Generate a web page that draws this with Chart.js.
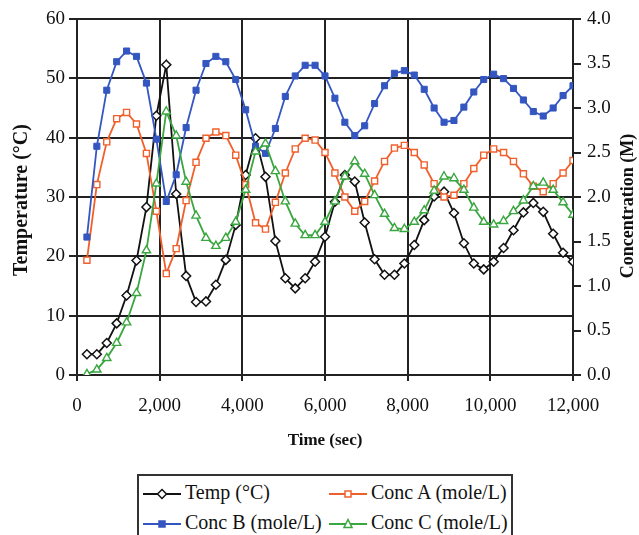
<!DOCTYPE html>
<html>
<head>
<meta charset="utf-8">
<script src="https://cdn.jsdelivr.net/npm/chart.js@4.4.1/dist/chart.umd.min.js"></script>
<style>
  body { margin: 0; background: #fff; }
  #wrap { position: relative; width: 639px; height: 535px; overflow: hidden; font-family: "Liberation Serif", serif; }
  #legend { position: absolute; left: 137px; top: 474px; width: 372px; height: 70px; border: 2px solid #333; overflow: hidden; background: #fff; }
  .item { position: absolute; font-size: 20px; line-height: 22px; white-space: nowrap; color: #111; }
  .item svg { vertical-align: -1px; margin-right: 4px; }
</style>
</head>
<body>
<div id="wrap">
  <canvas id="myChart" width="639" height="535"></canvas>
  <div id="legend">
    <div class="item" style="left:4px; top:5px">
      <svg width="38" height="12"><line x1="0" y1="6" x2="38" y2="6" stroke="#111" stroke-width="1.8"/><polygon points="19,1.5 23.5,6 19,10.5 14.5,6" fill="#fff" stroke="#111" stroke-width="1.5"/></svg>Temp (°C)
    </div>
    <div class="item" style="left:190px; top:5px">
      <svg width="38" height="12"><line x1="0" y1="6" x2="38" y2="6" stroke="#f0602c" stroke-width="1.8"/><rect x="16" y="3" width="6" height="6" fill="#fff" stroke="#f0602c" stroke-width="1.5"/></svg>Conc A (mole/L)
    </div>
    <div class="item" style="left:4px; top:35px">
      <svg width="38" height="12"><line x1="0" y1="6" x2="38" y2="6" stroke="#3456c0" stroke-width="1.8"/><rect x="16" y="3" width="6" height="6" fill="#3456c0" stroke="#3456c0" stroke-width="1.5"/></svg>Conc B (mole/L)
    </div>
    <div class="item" style="left:190px; top:35px">
      <svg width="38" height="12"><line x1="0" y1="6" x2="38" y2="6" stroke="#3aa640" stroke-width="1.8"/><polygon points="19,1.5 23,9.5 15,9.5" fill="#fff" stroke="#3aa640" stroke-width="1.5"/></svg>Conc C (mole/L)
    </div>
  </div>
</div>
<script>
// sample times (sec)
const times = [240, 480, 720, 960, 1200, 1440, 1680, 1920, 2160, 2400,
    2640, 2880, 3120, 3360, 3600, 3840, 4080, 4320, 4560, 4800,
    5040, 5280, 5520, 5760, 6000, 6240, 6480, 6720, 6960, 7200,
    7440, 7680, 7920, 8160, 8400, 8640, 8880, 9120, 9360, 9600,
    9840, 10080, 10320, 10560, 10800, 11040, 11280, 11520, 11760, 12000]

const tempC = [3.5, 3.5, 5.4, 8.7, 13.4, 19.3, 28.3, 43.7, 52.3, 30.5,
    16.7, 12.3, 12.4, 15.2, 19.4, 25.3, 33.7, 39.9, 33.4, 22.6,
    16.3, 14.6, 16.3, 19.1, 23.3, 29.2, 33.7, 32.6, 25.7, 19.5,
    16.9, 16.9, 18.8, 21.9, 26.1, 30.1, 30.9, 27.3, 22.2, 18.8,
    17.8, 19.1, 21.4, 24.4, 27.4, 29.0, 27.5, 23.8, 20.6, 19.1]

const concA = [1.29, 2.14, 2.62, 2.88, 2.95, 2.82, 2.49, 1.84, 1.14, 1.42,
    1.96, 2.39, 2.66, 2.73, 2.69, 2.47, 2.14, 1.71, 1.64, 1.94,
    2.27, 2.54, 2.66, 2.64, 2.50, 2.27, 2.00, 1.84, 1.95, 2.18,
    2.40, 2.55, 2.58, 2.50, 2.36, 2.15, 2.00, 2.02, 2.15, 2.32,
    2.47, 2.54, 2.50, 2.40, 2.26, 2.12, 2.06, 2.15, 2.27, 2.41]

const concB = [1.55, 2.57, 3.20, 3.52, 3.64, 3.58, 3.28, 2.65, 1.95, 2.25,
    2.78, 3.20, 3.50, 3.58, 3.52, 3.32, 2.98, 2.57, 2.49, 2.77,
    3.13, 3.36, 3.48, 3.48, 3.36, 3.11, 2.84, 2.69, 2.80, 3.05,
    3.25, 3.39, 3.42, 3.37, 3.21, 3.00, 2.84, 2.86, 3.01, 3.18,
    3.32, 3.38, 3.33, 3.22, 3.09, 2.96, 2.91, 3.00, 3.14, 3.25]

const concC = [0.01, 0.06, 0.19, 0.36, 0.59, 0.92, 1.40, 2.15, 2.96, 2.69,
    2.17, 1.79, 1.54, 1.45, 1.54, 1.72, 2.08, 2.51, 2.60, 2.29,
    1.95, 1.70, 1.57, 1.57, 1.72, 1.95, 2.23, 2.40, 2.26, 2.02,
    1.81, 1.65, 1.64, 1.72, 1.85, 2.07, 2.23, 2.21, 2.08, 1.88,
    1.72, 1.69, 1.73, 1.84, 1.96, 2.12, 2.16, 2.08, 1.94, 1.80]

const timeTicks = [0, 2000, 4000, 6000, 8000, 10000, 12000]
const tempTicks = [0, 10, 20, 30, 40, 50, 60]
const concTicks = [0, 0.5, 1, 1.5, 2, 2.5, 3, 3.5, 4]

const serif = '"Liberation Serif", "Times New Roman", serif'
const pts = arr => arr.map((v, i) => ({ x: times[i], y: v }))

// y axis titles drawn by hand so the right one reads bottom-to-top
const axisTitles = {
    id: 'axisTitles',
    afterDraw(chart) {
        const ctx = chart.ctx
        ctx.save()
        ctx.fillStyle = '#111'
        ctx.textAlign = 'center'
        ctx.textBaseline = 'middle'
        ctx.font = 'bold 20px ' + serif
        ctx.translate(22, 200)
        ctx.rotate(-Math.PI / 2)
        ctx.fillText('Temperature (°C)', 0, 0)
        ctx.restore()
        ctx.save()
        ctx.fillStyle = '#111'
        ctx.textAlign = 'center'
        ctx.textBaseline = 'middle'
        ctx.font = 'bold 18px ' + serif
        ctx.translate(628, 206)
        ctx.rotate(-Math.PI / 2)
        ctx.fillText('Concentration (M)', 0, 0)
        ctx.restore()
    }
}

const context = document.getElementById('myChart').getContext('2d')
const myChart = new Chart(context, {
    type: 'line',
    data: {
        datasets: [
            {
                label: 'Temp (°C)',
                data: pts(tempC),
                yAxisID: 'y',
                borderColor: '#111',
                backgroundColor: '#fff',
                pointStyle: 'rectRot',
                pointRadius: 4.5,
                pointBorderWidth: 1.5,
                borderWidth: 1.8,
                order: 4
            },
            {
                label: 'Conc A (mole/L)',
                data: pts(concA),
                yAxisID: 'y1',
                borderColor: '#f0602c',
                backgroundColor: '#fff',
                pointStyle: 'rect',
                pointRadius: 4.3,
                pointBorderWidth: 1.4,
                borderWidth: 1.8,
                order: 3
            },
            {
                label: 'Conc B (mole/L)',
                data: pts(concB),
                yAxisID: 'y1',
                borderColor: '#3456c0',
                backgroundColor: '#3456c0',
                pointStyle: 'rect',
                pointRadius: 4.3,
                pointBorderWidth: 1,
                borderWidth: 1.8,
                order: 2
            },
            {
                label: 'Conc C (mole/L)',
                data: pts(concC),
                yAxisID: 'y1',
                borderColor: '#3aa640',
                backgroundColor: '#fff',
                pointStyle: 'triangle',
                pointRadius: 4.8,
                pointBorderWidth: 1.4,
                borderWidth: 1.8,
                order: 1
            }
        ]
    },
    options: {
        responsive: false,
        animation: false,
        locale: 'en-US',
        layout: { padding: { left: 0, right: 0, top: 19, bottom: 80 } },
        plugins: {
            legend: { display: false },
            tooltip: { enabled: false }
        },
        elements: { line: { tension: 0 } },
        scales: {
            x: {
                type: 'linear',
                min: 0,
                max: 12000,
                afterBuildTicks: s => { s.ticks = timeTicks.map(v => ({ value: v })) },
                afterFit: s => { s.height = 80 },
                grid: { color: '#222', lineWidth: 2, tickLength: 6, tickColor: '#222' },
                border: { color: '#222', width: 2 },
                ticks: {
                    color: '#111',
                    font: { family: serif, size: 19 },
                    padding: 14,
                    maxRotation: 0,
                    callback: v => v.toLocaleString('en-US')
                },
                title: {
                    display: true,
                    text: 'Time (sec)',
                    color: '#111',
                    font: { family: serif, size: 17, weight: 'bold' },
                    padding: { top: 0, bottom: 4 }
                }
            },
            y: {
                position: 'left',
                min: 0,
                max: 60,
                afterBuildTicks: s => { s.ticks = tempTicks.map(v => ({ value: v })) },
                afterFit: s => { s.width = 77 },
                grid: { color: '#222', lineWidth: 2, tickLength: 8, tickColor: '#222' },
                border: { color: '#222', width: 2 },
                ticks: { color: '#111', font: { family: serif, size: 19 }, padding: 4 }
            },
            y1: {
                position: 'right',
                min: 0,
                max: 4,
                afterBuildTicks: s => { s.ticks = concTicks.map(v => ({ value: v })) },
                afterFit: s => { s.width = 66 },
                grid: { drawOnChartArea: false, tickLength: 8, tickColor: '#222', lineWidth: 2 },
                border: { color: '#222', width: 2 },
                ticks: {
                    color: '#111',
                    font: { family: serif, size: 19 },
                    padding: 6,
                    callback: v => v.toFixed(1)
                }
            }
        }
    },
    plugins: [axisTitles]
})
</script>
</body>
</html>
